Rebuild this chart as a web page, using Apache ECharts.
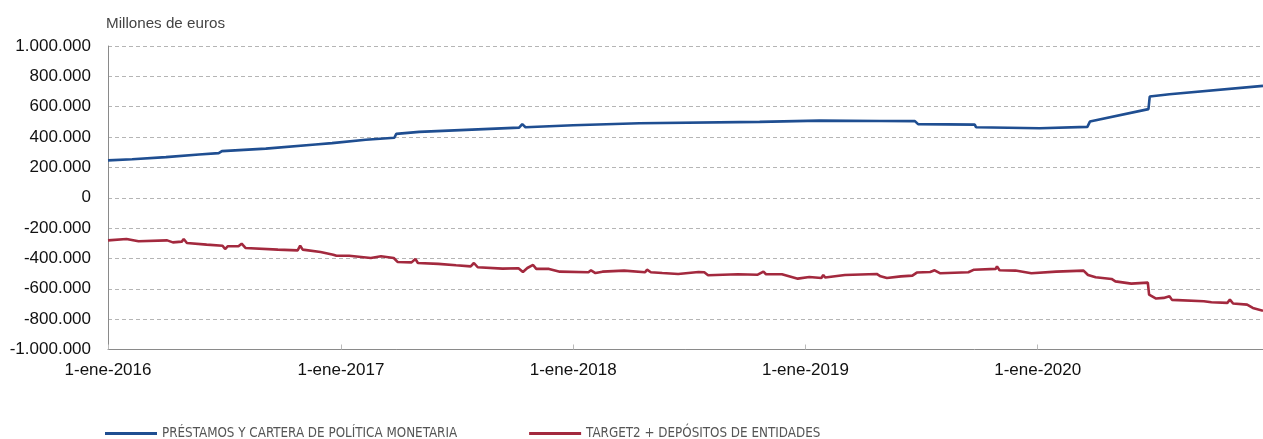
<!DOCTYPE html>
<html>
<head>
<meta charset="utf-8">
<title>Balance</title>
<script src="https://cdn.jsdelivr.net/npm/echarts@6/dist/echarts.min.js"></script>
<style>
  html, body { margin: 0; padding: 0; background: #fff; }
  #chart { width: 1263px; height: 439px; }
</style>
</head>
<body>
<div id="chart"></div>
<script>
// series names
var seriesNames = ['PRÉSTAMOS Y CARTERA DE POLÍTICA MONETARIA', 'TARGET2 + DEPÓSITOS DE ENTIDADES'];

// préstamos y cartera (millones de euros)
var blueDates = ['2016-01-01','2016-02-08','2016-04-01','2016-05-23','2016-06-23','2016-06-28','2016-09-05',
  '2016-11-22','2016-12-18','2016-12-21','2017-02-09','2017-03-26','2017-03-29','2017-05-04','2017-10-08',
  '2017-10-13','2017-10-18','2018-01-01','2018-04-15','2018-10-21','2019-01-23','2019-04-28','2019-06-22',
  '2019-06-27','2019-09-24','2019-09-26','2020-01-04','2020-03-19','2020-03-23','2020-06-23','2020-06-25',
  '2020-07-26','2020-12-20'];
var blueValues = [246000,254000,268000,285000,294000,307000,324000,
  351000,360000,368000,382000,395000,421000,434000,462000,
  485000,465000,478000,491000,500000,508000,506000,505000,
  485000,482000,465000,458000,467000,502000,584000,667000,
  682000,737000];

// target2 + depósitos (millones de euros)
var redDates = ['2016-01-01','2016-01-30','2016-02-18','2016-04-03','2016-04-12','2016-04-26','2016-04-29',
  '2016-05-04','2016-06-04','2016-06-29','2016-07-03','2016-07-07','2016-07-24','2016-07-29','2016-08-04',
  '2016-09-24','2016-10-25','2016-10-29','2016-11-02','2016-11-30','2016-12-20','2016-12-25','2017-01-14',
  '2017-02-17','2017-03-05','2017-03-25','2017-03-31','2017-04-22','2017-04-28','2017-05-02','2017-06-03',
  '2017-07-01','2017-07-24','2017-07-29','2017-08-04','2017-09-12','2017-10-07','2017-10-14','2017-10-21',
  '2017-10-30','2017-11-04','2017-11-24','2017-12-11','2018-01-25','2018-01-29','2018-02-05','2018-02-16',
  '2018-03-22','2018-04-24','2018-04-27','2018-05-03','2018-05-21','2018-06-15','2018-07-17','2018-07-26',
  '2018-08-01','2018-09-17','2018-10-18','2018-10-27','2018-10-31','2018-11-25','2018-12-20','2019-01-07',
  '2019-01-26','2019-01-29','2019-02-01','2019-03-04','2019-04-23','2019-04-29','2019-05-09','2019-05-31',
  '2019-06-18','2019-06-25','2019-07-16','2019-07-23','2019-08-01','2019-09-14','2019-09-23','2019-10-27',
  '2019-10-29','2019-11-02','2019-11-27','2019-12-22','2020-01-30','2020-03-13','2020-03-20','2020-04-01',
  '2020-04-26','2020-05-02','2020-05-27','2020-06-22','2020-06-24','2020-07-05','2020-07-17','2020-07-26',
  '2020-07-30','2020-09-18','2020-09-30','2020-10-25','2020-10-29','2020-11-03','2020-11-25','2020-12-04',
  '2020-12-20'];
var redValues = [-281000,-272000,-287000,-281000,-294000,-289000,-272000,
  -298000,-309000,-316000,-338000,-320000,-320000,-303000,-331000,
  -342000,-347000,-316000,-342000,-357000,-375000,-382000,-382000,
  -397000,-386000,-397000,-423000,-426000,-404000,-430000,-436000,
  -445000,-452000,-430000,-458000,-467000,-465000,-489000,-463000,
  -443000,-469000,-469000,-487000,-491000,-478000,-496000,-487000,
  -480000,-491000,-474000,-491000,-496000,-502000,-489000,-491000,
  -511000,-504000,-507000,-487000,-504000,-504000,-533000,-522000,
  -529000,-509000,-526000,-509000,-502000,-518000,-529000,-518000,
  -513000,-493000,-489000,-478000,-498000,-491000,-474000,-469000,
  -452000,-478000,-480000,-498000,-487000,-480000,-509000,-524000,
  -535000,-551000,-566000,-559000,-638000,-664000,-660000,-649000,
  -673000,-682000,-689000,-693000,-671000,-697000,-704000,-726000,
  -745000];

// x tick labels (1 de enero de cada año)
var yearTicks = ['2016-01-01','2017-01-01','2018-01-01','2019-01-01','2020-01-01'];
var monthNames = ['ene','feb','mar','abr','may','jun','jul','ago','sep','oct','nov','dic'];

function ts(d){
  return Date.UTC(+d.slice(0, 4), +d.slice(5, 7) - 1, +d.slice(8, 10));
}

function pairs(dates, values){
  var out = [];
  for (var i = 0; i < dates.length; i++) {
    out.push([ts(dates[i]), values[i]]);
  }
  return out;
}

function miles(v){
  var s = Math.abs(v).toString();
  s = s.replace(/\B(?=(\d{3})+(?!\d))/g, '.');
  return (v < 0 ? '-' : '') + s;
}

var tickTimes = yearTicks.map(ts);

var myChart = echarts.init(document.getElementById('chart'));
var font = '"Liberation Sans", Arial, sans-serif';

var option = {
  animation: false,
  title: {
    text: 'Millones de euros',
    left: 106,
    top: 16,
    padding: 0,
    textStyle: { fontFamily: font, fontSize: 15.2, fontWeight: 'normal', color: '#444' }
  },
  legend: {
    left: 105,
    top: 427,
    padding: 0,
    itemWidth: 52,
    itemHeight: 3,
    itemGap: 72,
    icon: 'rect',
    textStyle: { fontFamily: '"Liberation Sans Narrow", "DejaVu Sans Condensed", sans-serif', fontSize: 13.3, color: '#555' },
    data: seriesNames
  },
  grid: { left: 108, right: 0, top: 46, bottom: 89.5 },
  xAxis: {
    type: 'value',
    min: ts('2016-01-01'),
    max: ts('2020-12-20'),
    axisLine: { onZero: false, lineStyle: { color: '#8a8a8a', width: 1 } },
    axisTick: { show: true, inside: true, length: 5, lineStyle: { color: '#bbb' }, customValues: tickTimes },
    axisLabel: {
      customValues: tickTimes,
      showMinLabel: true,
      hideOverlap: false,
      margin: 12,
      fontFamily: font,
      fontSize: 17,
      color: '#111',
      formatter: function(val){
        var d = new Date(val);
        return d.getUTCDate() + '-' + monthNames[d.getUTCMonth()] + '-' + d.getUTCFullYear();
      }
    },
    splitLine: { show: false }
  },
  yAxis: {
    type: 'value',
    min: -1000000,
    max: 1000000,
    interval: 200000,
    axisLine: { show: true, lineStyle: { color: '#8a8a8a', width: 1 } },
    axisTick: { show: false },
    axisLabel: { margin: 17, fontFamily: font, fontSize: 17, color: '#111', formatter: miles },
    splitLine: { lineStyle: { color: '#b5b5b5', type: [4, 3], width: 1 } }
  },
  series: [{
    name: seriesNames[0],
    type: 'line',
    showSymbol: false,
    color: '#1f4e91',
    lineStyle: { width: 2.6 },
    data: pairs(blueDates, blueValues)
  }, {
    name: seriesNames[1],
    type: 'line',
    showSymbol: false,
    color: '#a3293e',
    lineStyle: { width: 2.6 },
    data: pairs(redDates, redValues)
  }]
};

myChart.setOption(option);
</script>
</body>
</html>
